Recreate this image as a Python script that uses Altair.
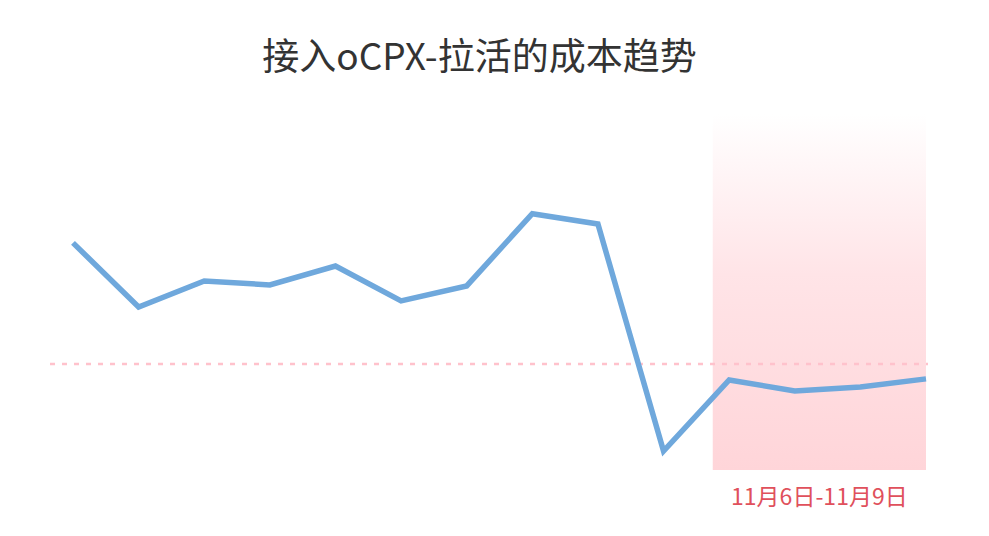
import altair as alt
import pandas as pd

# ---- data ----
days = ["10月27日", "10月28日", "10月29日", "10月30日", "10月31日", "11月1日", "11月2日",
        "11月3日", "11月4日", "11月5日", "11月6日", "11月7日", "11月8日", "11月9日"]
cost = [63.8, 45.8, 53.1, 52.0, 57.3, 47.5, 51.7, 72.0, 69.1, 5.3, 25.3, 22.2, 23.3, 25.6]
target = [29.8]
band_start = [9.75]
band_end = [13]
band_label = ["11月6日-11月9日"]
y_domain = [0, 100]

TITLE = "接入oCPX-拉活的成本趋势"
FONT = "Noto Sans CJK SC"

line_df = pd.DataFrame({"idx": list(range(len(days))), "day": days, "cost": cost})
band_df = pd.DataFrame({"start": band_start, "end": band_end, "label": band_label,
                        "top": [y_domain[1]], "bottom": [y_domain[0]]})
target_df = pd.DataFrame({"target": target})

xscale = alt.Scale(domain=[0, len(days) - 1], nice=False, zero=False)
yscale = alt.Scale(domain=y_domain, nice=False, zero=False)

W, H = 853, 356

gradient = alt.LinearGradient(
    gradient="linear",
    stops=[
        alt.GradientStop(offset=0, color="#ffffff"),
        alt.GradientStop(offset=0.45, color="#ffe4e7"),
        alt.GradientStop(offset=1, color="#ffd5d9"),
    ],
    x1=0, x2=0, y1=0, y2=1,
)

band = alt.Chart(band_df).mark_rect(color=gradient).encode(
    x=alt.X("start:Q", scale=xscale, axis=None),
    x2="end:Q",
    y=alt.Y("top:Q", scale=yscale, axis=None),
    y2="bottom:Q",
)

label = alt.Chart(band_df).transform_calculate(
    mid="(datum.start + datum.end) / 2"
).mark_text(font=FONT, fontSize=23, color="#e0505c", baseline="middle", align="center").encode(
    x=alt.X("mid:Q", scale=xscale, axis=None),
    y=alt.value(H + 28),
    text="label:N",
)

rule = alt.Chart(target_df).mark_rule(
    color="#ffc2cc", strokeWidth=2.5, strokeDash=[5, 7]
).encode(
    y=alt.Y("target:Q", scale=yscale, axis=None),
    x=alt.value(-23),
    x2=alt.value(W + 2),
)

line = alt.Chart(line_df).mark_line(
    color="#6fa8dc", strokeWidth=5.5, strokeJoin="miter", strokeCap="butt"
).encode(
    x=alt.X("idx:Q", scale=xscale, axis=None),
    y=alt.Y("cost:Q", scale=yscale, axis=None),
    tooltip=["day:N", "cost:Q"],
)

chart = alt.layer(band, rule, line, label).properties(
    width=W,
    height=H,
    padding={"left": 65, "top": 106, "right": 50, "bottom": 55},
    autosize=alt.AutoSizeParams(type="none"),
    title=alt.TitleParams(
        TITLE, font=FONT, fontSize=37, fontWeight="normal", color="#333333",
        anchor="middle", dx=-20, offset=7, baseline="alphabetic", frame="group",
    ),
).configure_view(stroke=None)

chart.save("out.html", embed_options={"renderer": "svg", "actions": False})
